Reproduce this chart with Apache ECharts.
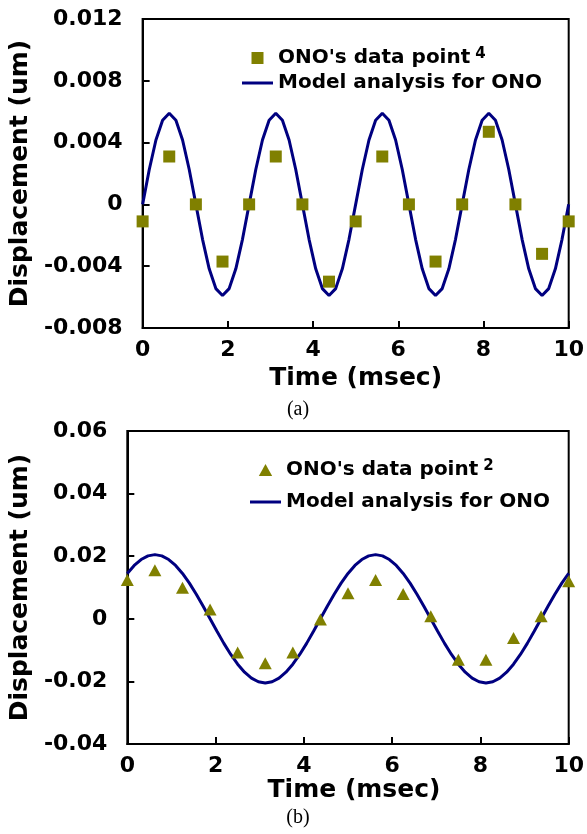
<!DOCTYPE html>
<html><head><meta charset="utf-8">
<script src="https://cdn.jsdelivr.net/npm/echarts@6/dist/echarts.min.js"></script>
<style>html,body{margin:0;padding:0;background:#fff}#c{width:587px;height:834px}</style>
</head><body><div id="c"></div>
<script>
// ---- data ----
const timePoints = [0, 0.625, 1.25, 1.875, 2.5, 3.125, 3.75, 4.375, 5, 5.625, 6.25, 6.875, 7.5, 8.125, 8.75, 9.375, 10];
const dataA = [-0.0011, 0.0031, 0, -0.0037, 0, 0.0031, 0, -0.005, -0.0011, 0.0031, 0, -0.0037, 0, 0.0047, 0, -0.0032, -0.0011];
const dataB = [0.0124, 0.0155, 0.0099, 0.003, -0.0108, -0.0142, -0.0108, -0.0002, 0.0082, 0.0124, 0.0079, 0.0008, -0.0131, -0.0131, -0.0061, 0.0008, 0.012];
const timeModel = [0, 0.15625, 0.3125, 0.46875, 0.625, 0.78125, 0.9375, 1.09375, 1.25, 1.40625, 1.5625, 1.71875, 1.875, 2.03125, 2.1875, 2.34375,
  2.5, 2.65625, 2.8125, 2.96875, 3.125, 3.28125, 3.4375, 3.59375, 3.75, 3.90625, 4.0625, 4.21875, 4.375, 4.53125, 4.6875, 4.84375,
  5, 5.15625, 5.3125, 5.46875, 5.625, 5.78125, 5.9375, 6.09375, 6.25, 6.40625, 6.5625, 6.71875, 6.875, 7.03125, 7.1875, 7.34375,
  7.5, 7.65625, 7.8125, 7.96875, 8.125, 8.28125, 8.4375, 8.59375, 8.75, 8.90625, 9.0625, 9.21875, 9.375, 9.53125, 9.6875, 9.84375, 10];
const modelA = [0, 0.00226, 0.00417, 0.00545, 0.0059, 0.00545, 0.00417, 0.00226, 0, -0.00226, -0.00417, -0.00545, -0.0059, -0.00545, -0.00417, -0.00226,
  0, 0.00226, 0.00417, 0.00545, 0.0059, 0.00545, 0.00417, 0.00226, 0, -0.00226, -0.00417, -0.00545, -0.0059, -0.00545, -0.00417, -0.00226,
  0, 0.00226, 0.00417, 0.00545, 0.0059, 0.00545, 0.00417, 0.00226, 0, -0.00226, -0.00417, -0.00545, -0.0059, -0.00545, -0.00417, -0.00226,
  0, 0.00226, 0.00417, 0.00545, 0.0059, 0.00545, 0.00417, 0.00226, 0, -0.00226, -0.00417, -0.00545, -0.0059, -0.00545, -0.00417, -0.00226, 0];
const modelB = [0.0145, 0.01705, 0.01894, 0.02011, 0.0205, 0.02011, 0.01894, 0.01705, 0.0145, 0.01139, 0.00785, 0.004, 0, -0.004, -0.00785, -0.01139,
  -0.0145, -0.01705, -0.01894, -0.02011, -0.0205, -0.02011, -0.01894, -0.01705, -0.0145, -0.01139, -0.00785, -0.004, 0, 0.004, 0.00785, 0.01139,
  0.0145, 0.01705, 0.01894, 0.02011, 0.0205, 0.02011, 0.01894, 0.01705, 0.0145, 0.01139, 0.00785, 0.004, 0, -0.004, -0.00785, -0.01139,
  -0.0145, -0.01705, -0.01894, -0.02011, -0.0205, -0.02011, -0.01894, -0.01705, -0.0145, -0.01139, -0.00785, -0.004, 0, 0.004, 0.00785, 0.01139, 0.0145];
const yTicksA = [-0.008, -0.004, 0, 0.004, 0.008, 0.012];
const yLabelsA = ['-0.008', '-0.004', '0', '0.004', '0.008', '0.012'];
const yTicksB = [-0.04, -0.02, 0, 0.02, 0.04, 0.06];
const yLabelsB = ['-0.04', '-0.02', '0', '0.02', '0.04', '0.06'];
const xTicks = [0, 2, 4, 6, 8, 10];
const xLabels = ['0', '2', '4', '6', '8', '10'];
const nameData = "ONO's data point";
const nameModel = 'Model analysis for ONO';
const refA = '4';
const refB = '2';
const xTitle = 'Time (msec)';
const yTitle = 'Displacement (um)';
const captions = ['(a)', '(b)'];

// ---- chart ----
const FONT = 'DejaVu Sans';
const OLIVE = '#808000';
const NAVY = '#000080';
function lab(ticks, labels) {
  return v => { for (let i = 0; i < ticks.length; i++) if (Math.abs(v - ticks[i]) < 1e-9) return labels[i]; return ''; };
}
function pairs(xs, ys) { return xs.map((x, i) => [x, ys[i]]); }

const axisLabelStyle = { fontFamily: FONT, fontWeight: 'bold', fontSize: 22, color: '#000' };
const nameStyle = { fontFamily: FONT, fontWeight: 'bold', fontSize: 25, color: '#000' };
const tickStyle = { show: true, inside: true, length: 7, lineStyle: { color: '#000', width: 2 } };

function xAxisFor(gi, gap, pad) {
  return {
    type: 'value', gridIndex: gi, min: 0, max: 10, interval: 2,
    axisLine: { show: true, onZero: false, lineStyle: { color: '#000', width: 2 } },
    axisTick: tickStyle, splitLine: { show: false },
    axisLabel: Object.assign({ margin: 11, formatter: lab(xTicks, xLabels) }, axisLabelStyle),
    name: xTitle, nameLocation: 'middle', nameGap: gap,
    nameTextStyle: Object.assign({ padding: pad }, nameStyle)
  };
}
function yAxisFor(gi, min, max, interval, ticks, labels, gap) {
  return {
    type: 'value', gridIndex: gi, min: min, max: max, interval: interval,
    axisLine: { show: true, onZero: false, lineStyle: { color: '#000', width: 2 } },
    axisTick: tickStyle, splitLine: { show: false },
    axisLabel: Object.assign({ margin: 20, formatter: lab(ticks, labels) }, axisLabelStyle),
    name: yTitle, nameLocation: 'middle', nameGap: gap, nameTextStyle: nameStyle
  };
}
function legendFor(top, left, gap, ref, iconPath) {
  return {
    orient: 'vertical', left: left, top: top, padding: 0,
    itemWidth: 31, itemHeight: 12, itemGap: gap, selectedMode: false,
    data: [
      { name: nameData, icon: iconPath, itemStyle: { color: OLIVE } },
      { name: nameModel, icon: 'path://M0,0L31,0L31,3L0,3Z', itemStyle: { color: NAVY, borderWidth: 0 } }
    ],
    formatter: n => n === nameData ? '{t|' + n + '}{s|' + ref + '}' : '{t|' + n + '}',
    textStyle: {
      rich: {
        t: { fontFamily: FONT, fontWeight: 'bold', fontSize: 20, lineHeight: 22, color: '#000' },
        s: { fontFamily: FONT, fontWeight: 'bold', fontSize: 15, lineHeight: 13, verticalAlign: 'top', color: '#000', padding: [0, 0, 0, 5] }
      }
    }
  };
}

const chart = echarts.init(document.getElementById('c'), null, { renderer: 'canvas' });
chart.setOption({
  animation: false,
  backgroundColor: '#fff',
  grid: [
    { left: 135, top: 19, width: 437, height: 309, show: true, borderColor: '#000', borderWidth: 2, backgroundColor: 'transparent' },
    { left: 118, top: 431, width: 453, height: 313, show: true, borderColor: '#000', borderWidth: 2, backgroundColor: 'transparent' }
  ],
  xAxis: [xAxisFor(0, 38, [0, 0, 0, 0]), xAxisFor(1, 32, [0, 0, 0, 12])],
  yAxis: [
    yAxisFor(0, -0.008, 0.012, 0.004, yTicksA, yLabelsA, 103),
    yAxisFor(1, -0.04, 0.06, 0.02, yTicksB, yLabelsB, 87)
  ],
  legend: [
    legendFor(47, 242, 5, refA, 'path://M0,0L10,0L10,10L0,10Z'),
    legendFor(459, 250, 12, refB, 'path://M5,0L10,9L0,9Z')
  ],
  series: [
    { type: 'line', name: nameModel, xAxisIndex: 0, yAxisIndex: 0, data: pairs(timeModel, modelA),
      showSymbol: false, symbol: 'none', lineStyle: { color: NAVY, width: 3 }, itemStyle: { color: NAVY }, z: 2 },
    { type: 'scatter', name: nameData, xAxisIndex: 0, yAxisIndex: 0, data: pairs(timePoints, dataA),
      symbol: 'rect', symbolSize: 12, itemStyle: { color: OLIVE, opacity: 1 }, z: 3 },
    { type: 'line', name: nameModel, xAxisIndex: 1, yAxisIndex: 1, data: pairs(timeModel, modelB),
      showSymbol: false, symbol: 'none', lineStyle: { color: NAVY, width: 3 }, itemStyle: { color: NAVY }, z: 2 },
    { type: 'scatter', name: nameData, xAxisIndex: 1, yAxisIndex: 1, data: pairs(timePoints, dataB),
      symbol: 'triangle', symbolSize: [13, 12], itemStyle: { color: OLIVE, opacity: 1 }, z: 3 }
  ],
  graphic: [
    { type: 'text', x: 298, y: 410, style: { text: captions[0], fontFamily: 'Liberation Serif', fontSize: 20, align: 'center', verticalAlign: 'middle', fill: '#000' } },
    { type: 'text', x: 298, y: 818, style: { text: captions[1], fontFamily: 'Liberation Serif', fontSize: 20, align: 'center', verticalAlign: 'middle', fill: '#000' } }
  ]
});
</script>
</body></html>
